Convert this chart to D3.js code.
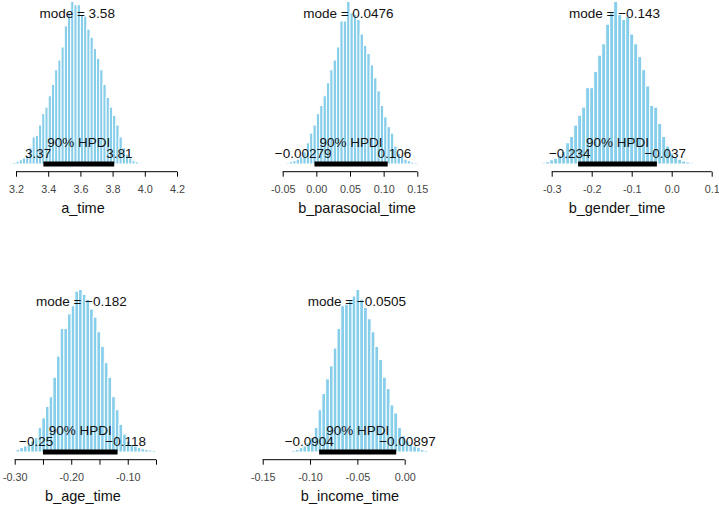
<!DOCTYPE html>
<html>
<head>
<meta charset="utf-8">
<script src="https://cdn.jsdelivr.net/npm/d3@7"></script>
<style>
  html, body { margin: 0; padding: 0; background: #fff; }
  svg { display: block; font-family: "Liberation Sans", Arial, sans-serif; }
</style>
</head>
<body>
<svg id="chart" width="719" height="508"></svg>
<script>
// --- data ---
const params   = ["a_time", "b_parasocial_time", "b_gender_time", "b_age_time", "b_income_time"];
const modes    = [3.58, 0.0476, -0.143, -0.182, -0.0505];
const hpdiLow  = [3.37, -0.00279, -0.234, -0.25, -0.0904];
const hpdiHigh = [3.81, 0.106, -0.037, -0.118, -0.00897];

// histogram breaks: first break and bin width per parameter
const binStart = [3.16, -0.045, -0.325, -0.2975, -0.1195];
const binWidth = [0.02, 0.005, 0.01, 0.0065, 0.004];

// bar heights (density)
const densATime = [0.02,0.03,0.05,0.08,0.11,0.15,0.30,0.50,0.53,0.72,0.93,1.05,1.26,1.47,1.74,1.92,2.16,2.55,2.79,3.00,
  2.94,2.94,2.76,2.73,2.49,2.34,2.13,1.95,1.74,1.47,1.23,1.05,0.90,0.72,0.50,0.30,0.18,0.11,0.06,0.04,0.02,0.01];
const densParasocial = [0.10,0.17,0.24,0.36,0.54,0.90,1.56,2.28,2.88,3.72,4.32,5.04,6.00,6.96,7.68,8.64,10.56,10.56,12.00,11.16,
  11.04,10.68,9.60,8.76,8.16,7.32,6.36,5.40,4.32,3.48,2.76,2.28,1.32,0.78,0.54,0.36,0.24,0.14,0.10];
const densGender = [0.05,0.09,0.17,0.23,0.36,0.50,0.86,1.12,1.58,1.98,2.31,3.10,3.10,3.76,4.42,4.88,5.68,6.14,6.60,6.07,
  5.87,6.00,5.28,4.88,4.36,3.83,3.17,2.38,2.31,1.65,1.12,0.73,0.44,0.30,0.19,0.12,0.08,0.05];
const densAge = [0.16,0.27,0.37,0.47,0.68,0.88,1.50,2.10,2.80,3.40,4.60,5.90,7.60,7.60,8.50,9.00,9.90,10.00,9.70,9.40,
  8.80,8.30,7.40,6.50,5.50,4.60,3.40,2.60,1.70,1.10,0.68,0.47,0.37,0.27,0.20,0.16,0.12,0.10];
const densIncome = [0.16,0.26,0.43,0.59,0.91,1.44,2.40,4.16,5.76,7.20,8.48,10.24,12.16,14.40,14.56,14.88,15.36,16.00,15.04,14.24,
  13.12,11.84,10.40,9.12,7.36,6.24,4.64,3.84,2.40,1.60,1.09,0.75,0.59,0.43,0.26,0.16];

// axis ticks and labels (R drops overlapping labels)
const ticksATime       = [3.2, 3.4, 3.6, 3.8, 4.0, 4.2];
const tickLabATime     = ["3.2", "3.4", "3.6", "3.8", "4.0", "4.2"];
const ticksParasocial  = [-0.05, 0.00, 0.05, 0.10, 0.15];
const tickLabParasocial= ["-0.05", "0.00", "0.05", "0.10", "0.15"];
const ticksGender      = [-0.3, -0.2, -0.1, 0.0, 0.1];
const tickLabGender    = ["-0.3", "-0.2", "-0.1", "0.0", "0.1"];
const ticksAge         = [-0.30, -0.25, -0.20, -0.15, -0.10, -0.05];
const tickLabAge       = ["-0.30", "", "-0.20", "", "-0.10", ""];
const ticksIncome      = [-0.15, -0.10, -0.05, 0.00];
const tickLabIncome    = ["-0.15", "-0.10", "-0.05", "0.00"];

const densities  = [densATime, densParasocial, densGender, densAge, densIncome];
const tickVals   = [ticksATime, ticksParasocial, ticksGender, ticksAge, ticksIncome];
const tickLabels = [tickLabATime, tickLabParasocial, tickLabGender, tickLabAge, tickLabIncome];

// --- layout: row baseline, pixel span of first/last tick, centre of plot region ---
const rowBase = [164, 452];
const panels = [
  { row: 0, px: [16, 177],      mid: 83 },
  { row: 0, px: [282.7, 417.3], mid: 357 },
  { row: 0, px: [551.7, 711.7], mid: 617 },
  { row: 1, px: [14.7, 156],    mid: 83 },
  { row: 1, px: [262.7, 404.7], mid: 350 }
];
const plotH = 162.5;
const barFill = "#87CEEB";
const textCol = "#111";

const svg = d3.select("#chart");
const fmt = v => String(+v.toPrecision(3)).replace("-", "\u2212");

panels.forEach((p, i) => {
  const base = rowBase[p.row];
  const ticks = tickVals[i];
  const dens = densities[i];

  const x = d3.scaleLinear()
    .domain([ticks[0], ticks[ticks.length - 1]])
    .range(p.px);
  const y = d3.scaleLinear()
    .domain([0, d3.max(dens)])
    .range([base, base - plotH]);

  const g = svg.append("g").attr("class", "panel");

  // --- histogram bars ---
  g.selectAll("rect.bar")
    .data(dens)
    .enter()
    .append("rect")
    .attr("class", "bar")
    .attr("x", (d, k) => x(binStart[i] + k * binWidth[i]))
    .attr("width", (d, k) => x(binStart[i] + (k + 1) * binWidth[i]) - x(binStart[i] + k * binWidth[i]))
    .attr("y", d => y(d))
    .attr("height", d => base - y(d))
    .style("fill", barFill)
    .style("stroke", "#fff")
    .style("stroke-width", 1);

  // --- HPDI line ---
  g.append("line")
    .attr("x1", x(hpdiLow[i]))
    .attr("x2", x(hpdiHigh[i]))
    .attr("y1", base)
    .attr("y2", base)
    .style("stroke", "#000")
    .style("stroke-width", 5)
    .style("stroke-linecap", "butt");

  g.append("text")
    .attr("x", x((hpdiLow[i] + hpdiHigh[i]) / 2))
    .attr("y", base - 17)
    .attr("text-anchor", "middle")
    .style("font-size", "13.5px")
    .style("fill", textCol)
    .text("90% HPDI");

  // limit labels placed like adj = 0.7 / 0.3
  [[hpdiLow[i], 0.7], [hpdiHigh[i], 0.3]].forEach(([v, adj]) => {
    const t = g.append("text")
      .attr("y", base - 6)
      .style("font-size", "13.5px")
      .style("fill", textCol)
      .text(fmt(v));
    const w = t.node().getComputedTextLength();
    t.attr("x", x(v) - adj * w);
  });

  // --- mode label ---
  g.append("text")
    .attr("x", x(modes[i]))
    .attr("y", base - 0.9 * plotH)
    .attr("text-anchor", "middle")
    .style("font-size", "13.5px")
    .style("fill", textCol)
    .text("mode = " + fmt(modes[i]));

  // --- x axis ---
  const axisY = base + 7.7;
  const axis = d3.axisBottom(x)
    .tickValues(ticks)
    .tickSizeOuter(0)
    .tickSize(5)
    .tickFormat((d, k) => tickLabels[i][k]);

  const ag = g.append("g")
    .attr("transform", `translate(0,${axisY})`)
    .call(axis);
  ag.select(".domain").remove();
  ag.append("line")
    .attr("x1", x(ticks[0]))
    .attr("x2", x(ticks[ticks.length - 1]))
    .style("stroke", "#000");
  ag.selectAll(".tick line").style("stroke", "#000");
  ag.selectAll(".tick text")
    .attr("y", 21.5)
    .attr("dy", 0)
    .style("font-family", "\"Liberation Sans\", Arial, sans-serif")
    .style("font-size", "10.8px")
    .style("fill", "#444");

  // --- x label ---
  g.append("text")
    .attr("x", p.mid)
    .attr("y", axisY + 41.5)
    .attr("text-anchor", "middle")
    .style("font-size", "14.5px")
    .style("fill", textCol)
    .text(params[i]);
});
</script>
</body>
</html>
